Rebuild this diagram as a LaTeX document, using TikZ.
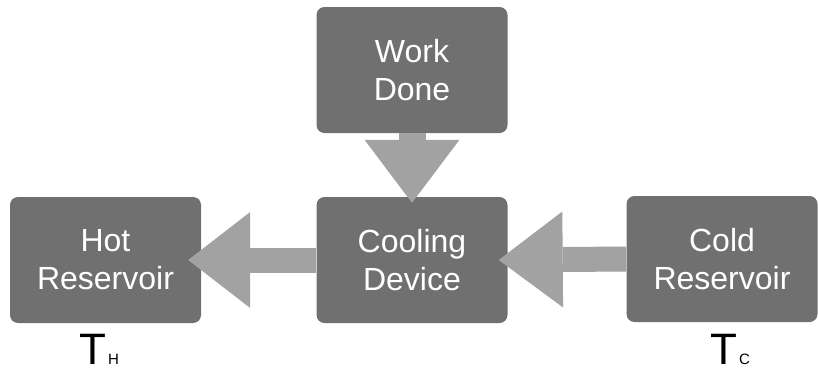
\documentclass[tikz,border=0pt]{standalone}
\usepackage{fontspec}
\setmainfont{Liberation Sans}
\usetikzlibrary{arrows.meta}

\definecolor{boxgray}{RGB}{112,112,112}
\definecolor{flowgray}{RGB}{162,162,162}

\tikzset{
  unit/.style={fill=boxgray,rounded corners=8pt,minimum width=191pt,
    minimum height=126pt,inner sep=0pt,text=white,align=center,
    font=\fontsize{32}{38}\selectfont},
  flow/.style={draw=flowgray,line width=#1},
  temp/.style={anchor=base,inner sep=0pt,text=black}
}

\newcommand{\tlabel}[1]{\fontsize{44}{44}\selectfont T\kern2pt\fontsize{15}{15}\selectfont #1}

\begin{document}
\begin{tikzpicture}[x=1pt,y=-1pt]
\useasboundingbox (0,0) rectangle (818,370);
% ---------- boxes ----------
\node[unit] (hot)  at (105.5,260) {Hot\\Reservoir};
\node[unit] (work) at (412,70)    {Work\\Done};
\node[unit] (cool) at (412,260)   {Cooling\\Device};
\node[unit] (cold) at (722,259)   {Cold\\Reservoir};
% ---------- flows ----------
\draw[flow=27pt,-{Triangle[length=63pt,width=95pt,line width=0pt]}]
  (work.south) -- ([yshift=-6pt]cool.north);
\draw[flow=25pt,-{Triangle[length=62pt,width=96pt,line width=0pt]}]
  (cool.west) -- ([xshift=-13pt]hot.east);
\draw[flow=25pt,-{Triangle[length=64pt,width=96pt,line width=0pt]}]
  (cold.west) -- ([xshift=-9pt]cool.east);
% ---------- temperatures ----------
\node[temp] (th) at (99,364)  {\tlabel{H}};
\node[temp] (tc) at (730,364) {\tlabel{C}};
\end{tikzpicture}
\end{document}
